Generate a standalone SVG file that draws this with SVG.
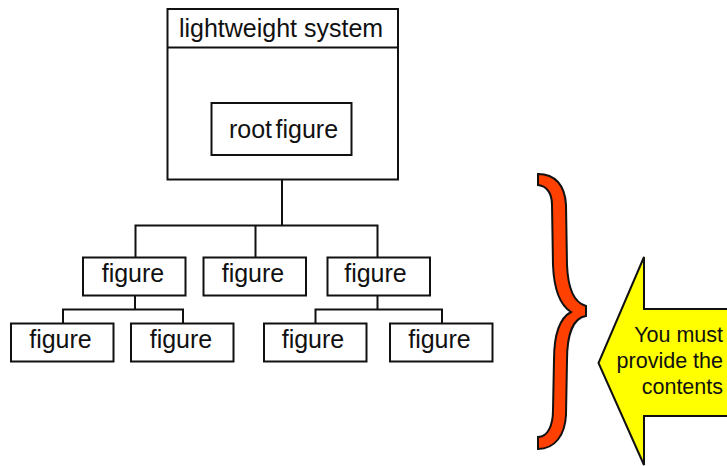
<svg xmlns="http://www.w3.org/2000/svg" width="727" height="466" viewBox="0 0 727 466">
<style>
.box{fill:#fff;stroke:#111;stroke-width:2}
.line{fill:none;stroke:#111;stroke-width:2}
.t{font-family:"Liberation Sans",Arial,sans-serif;font-size:25px;fill:#111;text-anchor:middle}
.c{font-family:"Liberation Sans",Arial,sans-serif;font-size:21.500px;fill:#111;text-anchor:end}
</style>
<rect width="727" height="466" fill="#fff"/>
<g id="connectors">
<path class="line" d="M282 155V225.500M135.500 257.500V225.500H377.500V257.500M255.500 225.500V257.500"/>
<path class="line" d="M135 295.500V309.500M63 323.500V309.500H183V323.500"/>
<path class="line" d="M377.500 295.500V309.500M315.500 323.500V309.500H442V323.500"/>
</g>
<g id="lightweight-system">
<rect class="box" x="167.500" y="9" width="230.500" height="170.500"/>
<line class="line" x1="167.500" y1="47.500" x2="398" y2="47.500"/>
<text class="t" x="281" y="37">lightweight system</text>
</g>
<g id="root-figure">
<rect class="box" x="211.500" y="103" width="140" height="52"/>
<text class="t" x="283.500" y="138" word-spacing="-3.500">root figure</text>
</g>
<g id="figure-1"><rect class="box" x="83" y="257.500" width="102.500" height="38"/><text class="t" x="133" y="282">figure</text></g>
<g id="figure-2"><rect class="box" x="203.500" y="257.500" width="102.500" height="38"/><text class="t" x="253" y="282">figure</text></g>
<g id="figure-3"><rect class="box" x="327.500" y="257.500" width="102.500" height="38"/><text class="t" x="375.500" y="282">figure</text></g>
<g id="figure-4"><rect class="box" x="11" y="323.500" width="102.500" height="38"/><text class="t" x="60.500" y="348">figure</text></g>
<g id="figure-5"><rect class="box" x="131" y="323.500" width="102.500" height="38"/><text class="t" x="181" y="348">figure</text></g>
<g id="figure-6"><rect class="box" x="264" y="323.500" width="102.500" height="38"/><text class="t" x="313" y="348">figure</text></g>
<g id="figure-7"><rect class="box" x="390" y="323.500" width="102.500" height="38"/><text class="t" x="439.500" y="348">figure</text></g>
<g id="brace">
<path d="M538 174C555 174 565 185 566 205L567 265C568 290 575 303 586 306L586 316C573 318 567 335 567 360L566 415C565 435 555 449 538 449L538 437C548 437 553 425 553 410L554 360C554 335 560 318 571 312C560 305 554 290 553 265L552 205C552 195 548 186 538 185Z" fill="#ff4000" stroke="#111" stroke-width="2"/>
</g>
<g id="callout">
<path d="M727 309H644V257L598.500 363L644 465V416H727" fill="#ffff00" stroke="#111" stroke-width="2"/>
<text class="c" x="723" y="342">You must</text>
<text class="c" x="723" y="368">provide the</text>
<text class="c" x="723" y="394">contents</text>
</g>
</svg>
